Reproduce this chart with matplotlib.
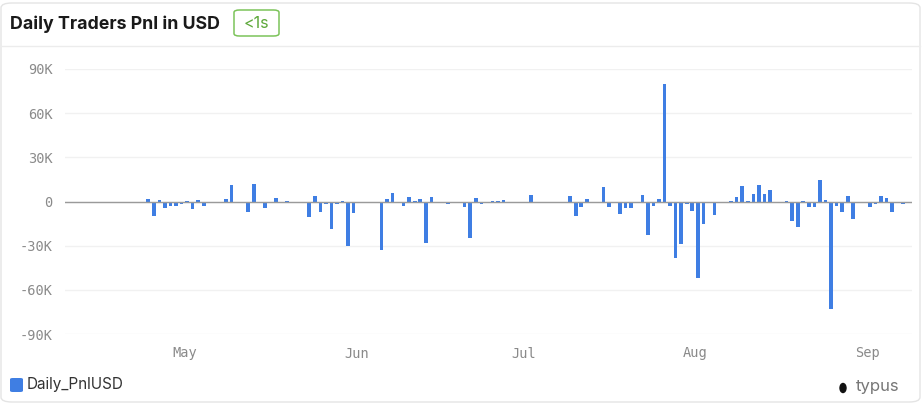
#!/usr/bin/env python3
import datetime as dt

import matplotlib
matplotlib.use("Agg")
import matplotlib.pyplot as plt
import matplotlib.dates as mdates
from matplotlib.patches import FancyBboxPatch, Ellipse
from matplotlib.ticker import FuncFormatter, MultipleLocator

TITLE = "Daily Traders Pnl in USD"
BADGE = "<1s"
SERIES = "Daily_PnlUSD"
START = dt.date(2024, 4, 24)

# daily pnl in thousands of USD, one value per day from START
PNL_K = [
    2, -10, 1, -4.5, -3, -3, -2, 0.3, -5, 1,
    -3, 0, -1, -1, 1.5, 11, 0, 0, -7, 12,
    -1, -4.5, 0, 2.5, 0, 0.2, 0, 0, -1, -10.5,
    4, -7, -1.5, -19, -2, 0.3, -30, -7.5, 0, -1,
    0, 0, -33, 2, 6, 0, -3, 3, 0.3, 2,
    -28, 3, 0, -1, -2, -1, 0, -3.5, -24.5, 2.5,
    -2, 0, 0.5, 0.5, 1, 0, 0, 0, 0, 4.7,
    -1, 0, 0, 0, 0, 0, 3.5, -10, -4, 2,
    -0.5, 0, 10, -3.4, 0, -8.4, -4.5, -4.5, 0, 4.5,
    -23, -3, 1.8, 79.7, -3, -38.5, -29, -1.5, -6.5, -52,
    -15.5, -1, -9.5, -1, 0, 0.3, 3, 10.4, 0.5, 5.4,
    11.5, 5, 7.7, 0, -1, 0.3, -13.5, -17.5, 0.3, -3.4,
    -3.4, 14.7, 1, -73, -3, -7, 3.4, -12, 0, 0,
    -4, -2, 3.8, 2.5, -7, -1, -1.5,
]

BLUE = "#3f7ee3"
GRAY = "#8a8a8a"

dates = [dt.datetime.combine(START, dt.time(10)) + dt.timedelta(days=i)
         for i in range(len(PNL_K))]
values = [v * 1000 for v in PNL_K]

W, H = 922, 404
fig = plt.figure(figsize=(W / 100, H / 100), dpi=100)
fig.patch.set_facecolor("white")


def fx(px):
    return px / W


def fy(py):
    return 1 - py / H


# card border and header separator
fig.patches.append(FancyBboxPatch(
    (fx(1), fy(402)), fx(919), (401 - 2) / H,
    boxstyle="round,pad=0,rounding_size=0.012",
    transform=fig.transFigure, facecolor="none",
    edgecolor="#e4e4e4", linewidth=1))
fig.add_artist(plt.Line2D([fx(1), fx(920)], [fy(46), fy(46)],
                          transform=fig.transFigure, color="#ececec", lw=1))

fig.text(fx(10), fy(24), TITLE, fontsize=12.8, fontweight="bold",
         family=["Inter", "DejaVu Sans"], color="#1a1a1a", va="center")
fig.patches.append(FancyBboxPatch(
    (fx(234), fy(36)), fx(45), 26 / H,
    boxstyle="round,pad=0,rounding_size=0.006",
    transform=fig.transFigure, facecolor="white",
    edgecolor="#7cc35a", linewidth=1.1))
fig.text(fx(256.5), fy(23), BADGE, fontsize=11.5, family=["Inter", "DejaVu Sans"],
         color="#5da83a", ha="center", va="center")

ax = fig.add_axes([fx(65), fy(334), fx(912 - 65), 265 / H])
ax.bar(dates, values, width=0.65, color=BLUE, zorder=3)
ax.axhline(0, color="#9a9a9a", lw=1, zorder=4)

ax.set_ylim(-90000, 90000)
ax.yaxis.set_major_locator(MultipleLocator(30000))
ax.yaxis.set_major_formatter(FuncFormatter(
    lambda v, _: "0" if v == 0 else f"{'-' if v < 0 else ''}{abs(v) / 1000:.0f}K"))
ax.set_xlim(dt.datetime(2024, 4, 9, 10), dt.datetime(2024, 9, 9, 0))
ax.xaxis.set_major_locator(mdates.MonthLocator())
ax.xaxis.set_major_formatter(mdates.DateFormatter("%b"))

ax.grid(axis="y", color="#f1f1f1", lw=1, zorder=0)
for s in ax.spines.values():
    s.set_visible(False)
ax.tick_params(length=0, colors=GRAY, labelsize=9.8)
ax.tick_params(axis="y", pad=9)
ax.tick_params(axis="x", pad=9)
for lab in ax.get_xticklabels() + ax.get_yticklabels():
    lab.set_family("DejaVu Sans Mono")

# legend and brand
fig.patches.append(FancyBboxPatch(
    (fx(10), fy(392)), fx(13), 14 / H,
    boxstyle="round,pad=0,rounding_size=0.003",
    transform=fig.transFigure, facecolor=BLUE, edgecolor="none"))
fig.text(fx(27), fy(385), SERIES, fontsize=11, family=["Inter", "DejaVu Sans"],
         color="#333333", va="center")
fig.patches.append(Ellipse((fx(843), fy(388)), fx(6), 9 / H,
                           transform=fig.transFigure, color="#111111"))
fig.text(fx(856), fy(387), "typus", fontsize=12, family=["Inter", "DejaVu Sans"],
         color="#777777", va="center")

fig.savefig("out.png", dpi=100)
